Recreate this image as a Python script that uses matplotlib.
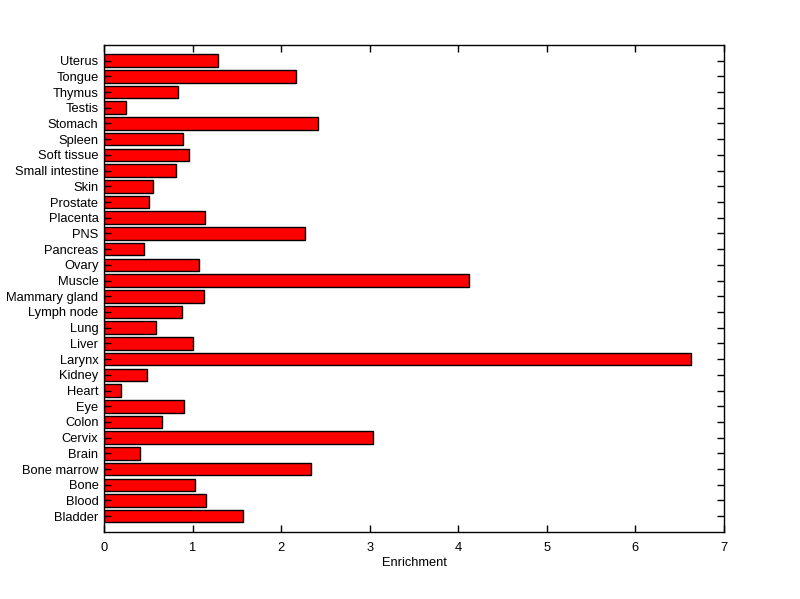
import numpy as np
import matplotlib.pyplot as plt

plt.rcParams['font.family'] = ['Liberation Sans', 'DejaVu Sans']

# tissues listed bottom to top
tissues = ['Bladder', 'Blood', 'Bone', 'Bone marrow', 'Brain', 'Cervix', 'Colon',
           'Eye', 'Heart', 'Kidney', 'Larynx', 'Liver', 'Lung', 'Lymph node',
           'Mammary gland', 'Muscle', 'Ovary', 'Pancreas', 'PNS', 'Placenta',
           'Prostate', 'Skin', 'Small intestine', 'Soft tissue', 'Spleen',
           'Stomach', 'Testis', 'Thymus', 'Tongue', 'Uterus']
enrichment = [1.57, 1.15, 1.03, 2.34, 0.41, 3.04, 0.66,
              0.90, 0.19, 0.49, 6.63, 1.00, 0.59, 0.88,
              1.13, 4.12, 1.07, 0.45, 2.27, 1.14,
              0.51, 0.55, 0.81, 0.96, 0.89,
              2.42, 0.25, 0.83, 2.17, 1.29]

ypos = np.arange(1, len(tissues) + 1)

fig = plt.figure(figsize=(8, 5.99), dpi=100)
ax = fig.add_axes([0.13, 0.112, 0.775, 0.813])
ax.barh(ypos, enrichment, height=0.8, color='#ff0000', edgecolor='black', linewidth=1.0)

ax.set_xlim(0, 7)
ax.set_ylim(0, len(tissues) + 1)
ax.set_yticks(ypos)
ax.set_yticklabels(tissues)
ax.set_xticks(np.arange(0, 8))
ax.set_xlabel('Enrichment', fontsize=9.3, labelpad=2.5)

ax.tick_params(direction='in', length=5, width=1, labelsize=9.3,
               top=True, right=True)
ax.tick_params(axis='x', pad=7)
ax.tick_params(axis='y', pad=4)
for s in ax.spines.values():
    s.set_linewidth(1)

fig.savefig('out.png', dpi=100)
